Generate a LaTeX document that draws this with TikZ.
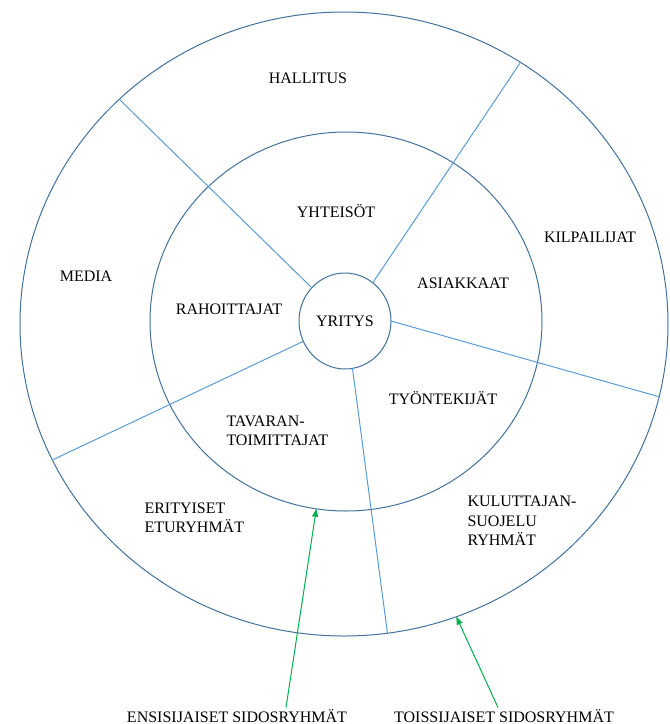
\documentclass[tikz,border=0pt]{standalone}
\usepackage{fontspec}
\setmainfont{Liberation Serif}
\usetikzlibrary{shapes.geometric,arrows.meta}
\definecolor{ringblue}{RGB}{65,113,156}
\definecolor{spokeblue}{RGB}{91,155,213}
\definecolor{arrowgreen}{RGB}{0,176,80}
\begin{document}
\begin{tikzpicture}[x=1pt, y=-1pt,
                    line width=1pt,
                    font=\fontsize{16}{19.5}\selectfont,
                    ]
    \tikzstyle{ring}=[ellipse,draw=ringblue,inner sep=0pt,outer sep=0pt]
    \tikzstyle{spoke}=[draw=spokeblue]
    \tikzstyle{group}=[inner sep=0pt]
    \tikzstyle{multi}=[group, anchor=west, align=left]
    \tikzstyle{pointer}=[draw=arrowgreen, -{Triangle[length=8pt,width=6pt]}]

    \useasboundingbox (0,0) rectangle (670,724);

    \node[ring, minimum width=648pt, minimum height=624pt] (ulko) at (344,324) {};
    \node[ring, minimum width=392pt, minimum height=379pt] (sisa) at (346,321.5) {};
    \node[ring, fill=white, minimum width=92pt, minimum height=96pt] (yritys) at (345,321) {YRITYS};

    \path[spoke] (yritys.135) -- (ulko.135.5);
    \path[spoke] (yritys.54) -- (ulko.56);
    \path[spoke] (yritys.0) -- (ulko.-13);
    \path[spoke] (yritys.206) -- (ulko.205.5);
    \path[spoke] (yritys.-81.5) -- (ulko.-82);

    \node[group] (hallitus) at (308,78) {HALLITUS};
    \node[group] (kilpailijat) at (590,237) {KILPAILIJAT};
    \node[group] (media) at (86,276) {MEDIA};
    \node[multi] (erityiset) at (144,518) {ERITYISET\\ETURYHMÄT};
    \node[multi] (kuluttajan) at (467,521) {KULUTTAJAN-\\SUOJELU\\RYHMÄT};

    \node[group] (yhteisot) at (336,211) {YHTEISÖT};
    \node[group] (asiakkaat) at (463,283) {ASIAKKAAT};
    \node[group] (rahoittajat) at (229,309) {RAHOITTAJAT};
    \node[group] (tyontekijat) at (443,398) {TYÖNTEKIJÄT};
    \node[multi] (tavaran) at (226,431) {TAVARAN-\\TOIMITTAJAT};

    \node[group, anchor=base] (ensi) at (237,722) {ENSISIJAISET SIDOSRYHMÄT};
    \node[group, anchor=base] (toissi) at (504,722) {TOISSIJAISET SIDOSRYHMÄT};

    \path[pointer] ([xshift=49pt,yshift=1pt]ensi.north) -- (sisa.-99);
    \path[pointer] ([xshift=-6pt,yshift=1pt]toissi.north) -- (ulko.-69);
\end{tikzpicture}
\end{document}
